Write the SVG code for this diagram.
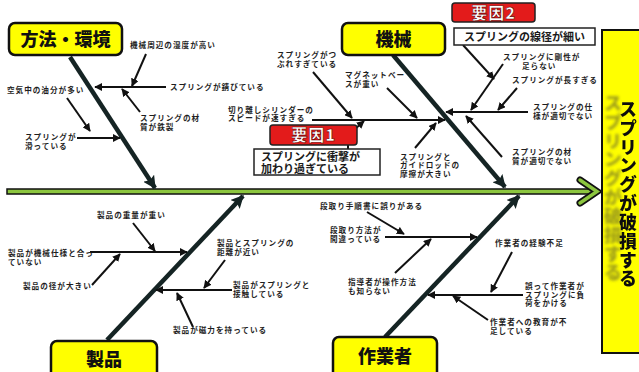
<svg xmlns="http://www.w3.org/2000/svg" width="639" height="372" viewBox="0 0 639 372">
<style>
.t{font-family:"Noto Sans CJK JP","Noto Sans",sans-serif;font-size:7.6px;font-weight:700;fill:#1e1e1e;letter-spacing:1px}
.cat{font-family:"Noto Sans CJK JP",sans-serif;font-size:18px;font-weight:900;fill:#111;text-anchor:middle}
.catbox{fill:#ffff00;stroke:#111;stroke-width:2.5}
.red{fill:#e31b1b;stroke:#222;stroke-width:1.5}
.redt{font-family:"Noto Sans CJK JP",sans-serif;font-size:16px;font-weight:900;fill:#fff;text-anchor:middle;stroke:#600;stroke-width:0.6;letter-spacing:1px}
.wbox{fill:#fff;stroke:#222;stroke-width:1.5}
.wt{font-family:"Noto Sans CJK JP",sans-serif;font-size:11px;font-weight:700;fill:#1a1a1a}
.bone{stroke:#152424;stroke-width:4.5;fill:none}
.sub{stroke:#111;stroke-width:2;fill:none}
</style>
<defs>
<marker id="a" viewBox="0 0 10 10" refX="9" refY="5" markerWidth="8" markerHeight="8" markerUnits="userSpaceOnUse" orient="auto"><path d="M0,0 L10,5 L0,10 z" fill="#111"/></marker>
<marker id="b" viewBox="0 0 10 10" refX="9" refY="5" markerWidth="13" markerHeight="13" markerUnits="userSpaceOnUse" orient="auto"><path d="M0,0 L10,5 L0,10 L2,5 z" fill="#152424"/></marker>
<filter id="sh" x="-60%" y="-10%" width="200%" height="130%"><feDropShadow dx="-15" dy="-6" stdDeviation="1.5" flood-color="#8c8c22" flood-opacity="0.85"/></filter>
</defs>

<g id="spine">
<rect x="7" y="189" width="585" height="5" fill="#8cc63f" stroke="#111" stroke-width="1.5"/>
<polyline points="580,180 597,191.5 580,203" fill="none" stroke="#111" stroke-width="7" stroke-linejoin="miter" stroke-linecap="round"/>
<polyline points="580,180 597,191.5 580,203" fill="none" stroke="#8cc63f" stroke-width="3.5" stroke-linejoin="miter" stroke-linecap="round"/>
</g>

<g id="problem">
<rect x="602" y="30" width="50" height="323" fill="#ffff00" stroke="#111" stroke-width="2"/>
<text x="628" y="100" filter="url(#sh)" style="writing-mode:vertical-rl" font-family="Noto Sans CJK JP, sans-serif" font-size="18" font-weight="900" fill="#111" letter-spacing="0.85">スプリングが破損する</text>
</g>

<g id="connectors">
<line class="bone" x1="70" y1="57" x2="155" y2="188" marker-end="url(#b)"/>
<line class="bone" x1="393" y1="55" x2="505" y2="187" marker-end="url(#b)"/>
<line class="bone" x1="107" y1="340" x2="243" y2="196" marker-end="url(#b)"/>
<line class="bone" x1="385" y1="337" x2="519" y2="196" marker-end="url(#b)"/>

<line class="sub" x1="146" y1="54" x2="132" y2="86" marker-end="url(#a)"/>
<line class="sub" x1="166" y1="87" x2="95" y2="87" marker-end="url(#a)"/>
<line class="sub" x1="140" y1="112" x2="122" y2="89" marker-end="url(#a)"/>
<line class="sub" x1="67" y1="98" x2="90" y2="131" marker-end="url(#a)"/>
<line class="sub" x1="77" y1="138" x2="120" y2="138" marker-end="url(#a)"/>

<line class="sub" x1="312" y1="120" x2="445" y2="120" marker-end="url(#a)"/>
<line class="sub" x1="313" y1="72" x2="352" y2="118" marker-end="url(#a)"/>
<line class="sub" x1="387" y1="88" x2="417" y2="118" marker-end="url(#a)"/>
<line class="sub" x1="415" y1="148" x2="436" y2="123" marker-end="url(#a)"/>
<line class="sub" x1="354" y1="130" x2="364" y2="121" marker-end="url(#a)"/>
<line class="sub" x1="348" y1="145" x2="348" y2="149"/>

<line class="sub" x1="528" y1="112" x2="446" y2="112" marker-end="url(#a)"/>
<line class="sub" x1="503" y1="64" x2="471" y2="110" marker-end="url(#a)"/>
<line class="sub" x1="517" y1="88" x2="498" y2="110" marker-end="url(#a)"/>
<line class="sub" x1="502" y1="157" x2="466" y2="116" marker-end="url(#a)"/>
<line class="sub" x1="463" y1="45" x2="494" y2="79" marker-end="url(#a)"/>

<line class="sub" x1="133" y1="223" x2="155" y2="251" marker-end="url(#a)"/>
<line class="sub" x1="90" y1="252" x2="187" y2="252" marker-end="url(#a)"/>
<line class="sub" x1="92" y1="285" x2="120" y2="254" marker-end="url(#a)"/>
<line class="sub" x1="232" y1="290" x2="156" y2="290" marker-end="url(#a)"/>
<line class="sub" x1="225" y1="260" x2="204" y2="288" marker-end="url(#a)"/>
<line class="sub" x1="193" y1="327" x2="177" y2="293" marker-end="url(#a)"/>

<line class="sub" x1="367" y1="212" x2="404" y2="234" marker-end="url(#a)"/>
<line class="sub" x1="385" y1="237" x2="477" y2="237" marker-end="url(#a)"/>
<line class="sub" x1="395" y1="273" x2="431" y2="239" marker-end="url(#a)"/>
<line class="sub" x1="523" y1="295" x2="428" y2="295" marker-end="url(#a)"/>
<line class="sub" x1="512" y1="252" x2="491" y2="292" marker-end="url(#a)"/>
<line class="sub" x1="488" y1="320" x2="453" y2="296" marker-end="url(#a)"/>
</g>

<g id="cat-method"><rect class="catbox" x="9" y="23" width="113" height="32" rx="6"/><text class="cat" x="65.5" y="46">方法・環境</text></g>
<g id="cat-machine"><rect class="catbox" x="342" y="23" width="103" height="32" rx="6"/><text class="cat" x="393.5" y="46">機械</text></g>
<g id="cat-product"><rect class="catbox" x="51" y="341" width="106" height="40" rx="6"/><text class="cat" x="104" y="366">製品</text></g>
<g id="cat-worker"><rect class="catbox" x="333" y="337" width="104" height="44" rx="6"/><text class="cat" x="385" y="363">作業者</text></g>

<g id="factor1">
<rect class="red" x="270" y="125" width="87" height="20" rx="3"/>
<text class="redt" x="313.5" y="141">要因1</text>
<rect class="wbox" x="254" y="149" width="126" height="26"/>
<text class="wt" x="261" y="161">スプリングに衝撃が<tspan x="261" dy="12">加わり過ぎている</tspan></text>
</g>
<g id="factor2">
<rect class="red" x="452" y="3" width="83" height="19" rx="3"/>
<text class="redt" x="493.5" y="18.5">要因2</text>
<rect class="wbox" x="454" y="28" width="141" height="17"/>
<text class="wt" x="524.5" y="40.5" text-anchor="middle">スプリングの線径が細い</text>
</g>

<g id="causes-method">
<text class="t" x="130" y="48">機械周辺の湿度が高い</text>
<text class="t" x="170" y="90">スプリングが錆びている</text>
<text class="t" x="140" y="121">スプリングの材<tspan x="140" dy="9">質が鉄製</tspan></text>
<text class="t" x="7" y="93">空気中の油分が多い</text>
<text class="t" x="25" y="140">スプリングが<tspan x="25" dy="9">滑っている</tspan></text>
</g>
<g id="causes-machine">
<text class="t" x="277" y="58">スプリングがつ<tspan x="277" dy="8.5">ぶれすぎている</tspan></text>
<text class="t" x="345" y="78">マグネットベー<tspan x="345" dy="8.5">スが重い</tspan></text>
<text class="t" x="228" y="112.5">切り離しシリンダーの<tspan x="228" dy="8.5">スピードが速すぎる</tspan></text>
<text class="t" x="400" y="160">スプリングと<tspan x="400" dy="8.3">ガイドロッドの</tspan><tspan x="400" dy="8.3">摩擦が大きい</tspan></text>
<text class="t" x="503" y="60">スプリングに剛性が<tspan x="522" dy="8.5">足らない</tspan></text>
<text class="t" x="512" y="83">スプリングが長すぎる</text>
<text class="t" x="533" y="110">スプリングの仕<tspan x="533" dy="8.5">様が適切でない</tspan></text>
<text class="t" x="512" y="155">スプリングの材<tspan x="512" dy="8.5">質が適切でない</tspan></text>
</g>
<g id="causes-product">
<text class="t" x="97" y="218">製品の重量が重い</text>
<text class="t" x="8" y="256">製品が機械仕様と合っ<tspan x="8" dy="9">ていない</tspan></text>
<text class="t" x="23" y="289">製品の径が大きい</text>
<text class="t" x="217" y="246">製品とスプリングの<tspan x="217" dy="9">距離が近い</tspan></text>
<text class="t" x="233" y="288">製品がスプリングと<tspan x="233" dy="8.5">接触している</tspan></text>
<text class="t" x="173" y="333">製品が磁力を持っている</text>
</g>
<g id="causes-worker">
<text class="t" x="320" y="209">段取り手順書に誤りがある</text>
<text class="t" x="330" y="233">段取り方法が<tspan x="330" dy="9">間違っている</tspan></text>
<text class="t" x="348" y="285">指導者が操作方法<tspan x="348" dy="8.5">も知らない</tspan></text>
<text class="t" x="495" y="246">作業者の経験不足</text>
<text class="t" x="525" y="289">誤って作業者が<tspan x="525" dy="8.5">スプリングに負</tspan><tspan x="525" dy="8.5">荷をかける</tspan></text>
<text class="t" x="490" y="325">作業者への教育が不<tspan x="490" dy="8.5">足している</tspan></text>
</g>
</svg>
